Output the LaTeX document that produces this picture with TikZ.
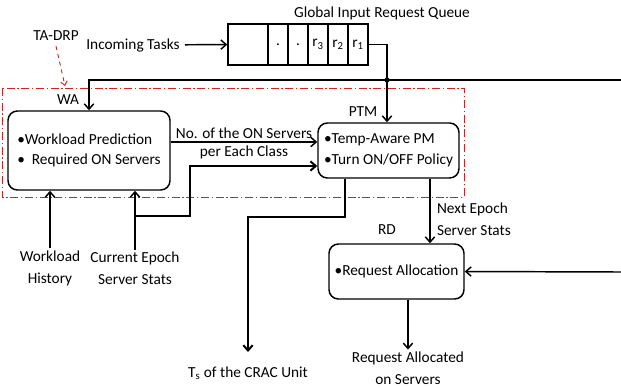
\documentclass[tikz,border=0pt]{standalone}
\usepackage{fontspec}
\setmainfont{Carlito}
\usetikzlibrary{arrows.meta}
\definecolor{regionred}{HTML}{D42020}

\begin{document}
\begin{tikzpicture}[x=0.75pt, y=-0.75pt, line width=1.1pt,
        >={Straight Barb[length=4pt, width=7pt]},
        font=\fontsize{11.5}{13}\selectfont,
        block/.style={draw, rounded corners=7pt, align=left, inner sep=0pt,
            font=\fontsize{11.5}{15.5}\selectfont},
        cell/.style={draw, minimum height=30.75pt, minimum width=15pt, inner sep=0pt},
        lbl/.style={inner sep=1pt, align=center, font=\fontsize{11.5}{16.5}\selectfont}]
        \useasboundingbox (0,0) rectangle (621,387);
        % Queue
        \node (title) at (382,13) {Global Input Request Queue};
        \node[cell, minimum width=30pt] (q0) at (248,44.5) {};
        \node[cell] (q1) at (278,44.5) {.};
        \node[cell] (q2) at (298,44.5) {.};
        \node[cell] (q3) at (318,44.5) {r\textsubscript{3}};
        \node[cell] (q4) at (338,44.5) {r\textsubscript{2}};
        \node[cell] (q5) at (358,44.5) {r\textsubscript{1}};
        \node (intask) at (133,45) {Incoming Tasks};
        % Blocks
        \node[block, minimum width=121.5pt, minimum height=59.25pt] (WA) at (89,150.5)
            {\textbullet Workload Prediction\\\textbullet\ \ Required ON Servers};
        \node[block, minimum width=105.75pt, minimum height=41.25pt] (PTM) at (388.5,150.5)
            {\textbullet Temp-Aware PM\\\textbullet Turn ON/OFF Policy};
        \node[block, minimum width=101.25pt, minimum height=41.25pt] (RD) at (396.5,271.5)
            {\textbullet Request Allocation};
        \node (wal) at (68,100) {WA};
        \node (ptml) at (363,112) {PTM};
        \node (rdl) at (387,230) {RD};
        \node (tadrp) at (56,36) {TA-DRP};
        % Inputs and outputs
        \node[lbl] (hist) at (50,268) {Workload\\History};
        \node[lbl] (cur) at (135,268) {Current Epoch\\Server Stats};
        \node[lbl] (crac) at (248,373) {T\textsubscript{s} of the CRAC Unit};
        \node[lbl] (out) at (408,368) {Request Allocated\\on Servers};
        \node[lbl, align=left, anchor=west] (next) at (435,219) {Next Epoch\\Server Stats};
        % Bends and free ends
        \coordinate (J) at (387,80);
        \coordinate (E1) at (621,80);
        \coordinate (E2) at (621,272);
        \coordinate (B) at (135,216);
        \coordinate (B2) at (190,166);
        \coordinate (C1) at (345,217);
        \coordinate (C2) at (248,352);
        \coordinate (nx) at (430,0);
        \coordinate (T1) at (65,86);
        % TA-DRP region
        \draw[regionred, line width=0.7pt, dash pattern=on 6pt off 2pt on 1pt off 2pt]
            (2,88) rectangle (464,197);
        \draw[->, regionred, line width=0.7pt, dashed, >={Straight Barb[length=3pt, width=5pt]}]
            (tadrp.south) -- (T1);
        % Arrows
        \draw[->] (intask) -- (q0);
        \draw (q5.east) -| (J);
        \fill (J) circle (2.6);
        \draw[->] (E1) -| (WA.north);
        \draw[->] (J) -- (J |- PTM.north);
        \draw[->] ([yshift=6.4pt]WA.east) -- node[above, lbl, yshift=1pt]{No. of the ON Servers}
            node[below, lbl, yshift=-1pt]{per Each Class} ([yshift=6.4pt]PTM.west);
        \draw[->] (hist.north) -- (hist.north |- WA.south);
        \draw[->] (cur.north) -- (cur.north |- WA.south);
        \draw[->, line width=1.5pt] (B) -| (B2) -- (B2 -| PTM.west);
        \draw[->, line width=1.5pt] (PTM.south -| C1) -- (C1) -| (C2);
        \draw[->] (PTM.south -| nx) -- (RD.north -| nx);
        \draw[->] (E2) -- (RD.east);
        \draw[->] (RD.south -| out) -- (out.north);
    \end{tikzpicture}
\end{document}
